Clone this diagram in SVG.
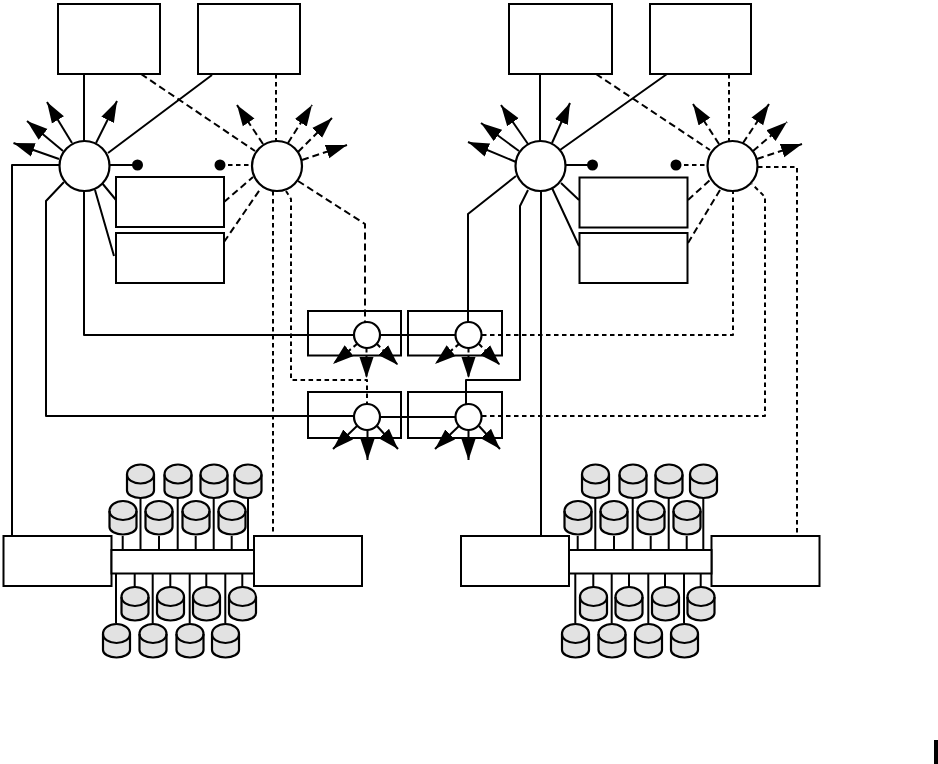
<svg xmlns="http://www.w3.org/2000/svg" width="938" height="764" viewBox="0 0 938 764">
<style>
.b{fill:#fff;stroke:#000;stroke-width:2}
.c{fill:#fff;stroke:#000;stroke-width:2.200}
.s{fill:none;stroke:#000;stroke-width:2;stroke-linejoin:round}
.d{fill:none;stroke:#000;stroke-width:2;stroke-dasharray:7 4;stroke-linejoin:round}
.d2{fill:none;stroke:#000;stroke-width:2;stroke-dasharray:4.500 3.500;stroke-linejoin:round}
.a{marker-end:url(#arrow)}
.dot{fill:#000}
</style>
<defs>
<marker id="arrow" markerUnits="userSpaceOnUse" markerWidth="22" markerHeight="15" refX="21" refY="7" orient="auto" viewBox="0 0 22 14"><path d="M0 0L21 7L0 14Z" fill="#000"/></marker>
<g id="cyl"><path d="M0 10A13.500 10 0 0 1 27 10V26A13.500 7.500 0 0 1 0 26Z" fill="#e2e2e2" stroke="#000" stroke-width="2.200"/><path d="M0 10A13.500 9 0 0 0 27 10" fill="none" stroke="#000" stroke-width="2.200"/></g>
</defs>
<rect x="934" y="740" width="4" height="24" fill="#000"/>
<g id="lan-a1"><rect class="b" x="58" y="4" width="102" height="70"/></g>
<g id="lan-a2"><rect class="b" x="198" y="4" width="102" height="70"/></g>
<g id="lan-b1"><rect class="b" x="509" y="4" width="103" height="70"/></g>
<g id="lan-b2"><rect class="b" x="650" y="4" width="101" height="70"/></g>
<g id="box-a1"><rect class="b" x="116" y="177" width="108" height="50"/></g>
<g id="box-a2"><rect class="b" x="116" y="233" width="108" height="50"/></g>
<g id="box-b1"><rect class="b" x="579.500" y="177.500" width="108" height="50"/></g>
<g id="box-b2"><rect class="b" x="579.500" y="233" width="108" height="50"/></g>
<g id="sw-1"><rect class="b" x="308" y="311" width="93" height="44.500"/></g>
<g id="sw-2"><rect class="b" x="408" y="311" width="94" height="44.500"/></g>
<g id="sw-3"><rect class="b" x="308" y="392" width="93" height="46"/></g>
<g id="sw-4"><rect class="b" x="408" y="392" width="94" height="46"/></g>
<g id="connectors">
<path class="s" d="M84 74V141M212 75L108 153M109 165H137M102 183L116 200M95 190L114 256"/>
<path class="d" d="M141 74L255 151M224 202L253 177M224 242L261 188"/>
<path class="d2" d="M276 74V141M220 165H252"/>
<path class="s" d="M60 165H12V536M64 182L46 201V416H354M84 191V335H354M380 335H455M380 417H455"/>
<path class="d2" d="M273 191V536M286 191L291 199V380H367V404"/>
<path class="d" d="M298 181L365 224V323"/>
<path class="s" d="M516 176L468 214V322M528 190L520 206V380H466V404M541 191V536"/>
<path class="d2" d="M482 335H733V191M482 416H765V197L752 184M758 167H797V536"/>
<path class="s" d="M540 74V141M667 74L560 150M565 165H593M561 183L579 200M552 188L579 246"/>
<path class="d" d="M596 74L710 150M688 200L710 180M688 243L720 190"/>
<path class="d2" d="M729 74V141M676 165H708"/>
<path class="s a" d="M59 159L13.500 143"/><path class="s a" d="M63 151L27 121"/><path class="s a" d="M72 143L47 102"/><path class="s a" d="M96 143L117 101"/>
<path class="d a" d="M263 144L237 105"/><path class="d a" d="M288 143L312 105"/><path class="d a" d="M298 152L332 118"/><path class="d a" d="M302 160L347 145"/>
<path class="s a" d="M516 162L468 142"/><path class="s a" d="M519 151L481 123"/><path class="s a" d="M528 144L501 105"/><path class="s a" d="M552 143L570 103"/>
<path class="d a" d="M719 144L693 104"/><path class="d a" d="M743 143L769 104"/><path class="d a" d="M753 151L787 122"/><path class="d a" d="M757 159L802 144"/>
<path class="d2 a" d="M357 344L333 364"/><path class="d2 a" d="M366.500 348V378"/><path class="d2 a" d="M377 344L398 365"/>
<path class="d2 a" d="M459 344L435 364"/><path class="d2 a" d="M468.500 348V378"/><path class="d2 a" d="M479 344L500 365"/>
<path class="s a" d="M357 426L333 449"/><path class="s a" d="M367.500 430V460"/><path class="s a" d="M377 426L398 449"/>
<path class="s a" d="M459 426L435 449"/><path class="s a" d="M468.500 430V460"/><path class="s a" d="M479 426L500 449"/>
<path class="s" d="M140.500 498V550M177.700 498V550M213.700 498V550M248 498V550M122.700 536V550M159 536V550M195.700 536V550M231.700 536V550M134.700 574V587M170.300 574V587M206.300 574V587M242.300 574V587M116 574V623M152.700 574V623M189.700 574V623M225.300 574V623"/>
<path class="s" d="M595.300 498V550M632.700 498V550M668.700 498V550M703.300 498V550M577.700 536V550M614 536V550M650.700 536V550M686.700 536V550M593.300 574V587M629 574V587M665 574V587M700.700 574V587M575.300 574V623M611.700 574V623M648.300 574V623M684 574V623"/>
</g>
<g id="hub-a1"><circle class="c" cx="84.500" cy="166" r="25"/></g>
<g id="hub-a2"><circle class="c" cx="277" cy="166" r="25"/></g>
<g id="hub-b1"><circle class="c" cx="540.500" cy="166" r="25"/></g>
<g id="hub-b2"><circle class="c" cx="732.500" cy="166" r="25"/></g>
<g id="dot-a1"><circle class="dot" cx="137.500" cy="165" r="5.500"/></g>
<g id="dot-a2"><circle class="dot" cx="220" cy="165" r="5.500"/></g>
<g id="dot-b1"><circle class="dot" cx="592.500" cy="165" r="5.500"/></g>
<g id="dot-b2"><circle class="dot" cx="676" cy="165" r="5.500"/></g>
<g id="sw-hub-1"><circle class="c" cx="367" cy="335" r="13"/></g>
<g id="sw-hub-2"><circle class="c" cx="468.500" cy="335" r="13"/></g>
<g id="sw-hub-3"><circle class="c" cx="367" cy="417" r="13"/></g>
<g id="sw-hub-4"><circle class="c" cx="468.500" cy="417" r="13"/></g>
<g id="ctl-a1"><rect class="b" x="3.500" y="536" width="108" height="50"/></g>
<g id="ctl-a2"><rect class="b" x="254" y="536" width="108" height="50"/></g>
<g id="bus-a"><rect class="b" x="111.500" y="550" width="142.500" height="23.500"/></g>
<g id="ctl-b1"><rect class="b" x="461" y="536" width="108" height="50"/></g>
<g id="ctl-b2"><rect class="b" x="711.500" y="536" width="108" height="50"/></g>
<g id="bus-b"><rect class="b" x="569" y="550" width="142.500" height="23.500"/></g>
<g id="disks-a">
<use href="#cyl" x="127" y="464.500"/><use href="#cyl" x="164.500" y="464.500"/><use href="#cyl" x="200.500" y="464.500"/><use href="#cyl" x="234.500" y="464.500"/>
<use href="#cyl" x="109.500" y="501"/><use href="#cyl" x="145.500" y="501"/><use href="#cyl" x="182.500" y="501"/><use href="#cyl" x="218.500" y="501"/>
<use href="#cyl" x="121.500" y="587"/><use href="#cyl" x="157" y="587"/><use href="#cyl" x="193" y="587"/><use href="#cyl" x="229" y="587"/>
<use href="#cyl" x="103" y="624"/><use href="#cyl" x="139.500" y="624"/><use href="#cyl" x="176.500" y="624"/><use href="#cyl" x="212" y="624"/>
</g>
<g id="disks-b">
<use href="#cyl" x="582" y="464.500"/><use href="#cyl" x="619.500" y="464.500"/><use href="#cyl" x="655.500" y="464.500"/><use href="#cyl" x="690" y="464.500"/>
<use href="#cyl" x="564.500" y="501"/><use href="#cyl" x="600.500" y="501"/><use href="#cyl" x="637.500" y="501"/><use href="#cyl" x="673.500" y="501"/>
<use href="#cyl" x="580" y="587"/><use href="#cyl" x="615.500" y="587"/><use href="#cyl" x="652" y="587"/><use href="#cyl" x="687.500" y="587"/>
<use href="#cyl" x="562" y="624"/><use href="#cyl" x="598.500" y="624"/><use href="#cyl" x="635" y="624"/><use href="#cyl" x="671" y="624"/>
</g>
</svg>
